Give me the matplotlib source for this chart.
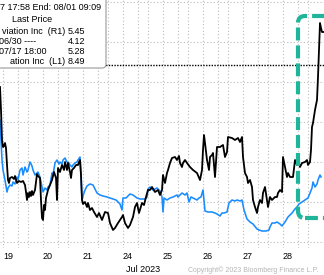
import matplotlib
matplotlib.use('Agg')
import matplotlib.pyplot as plt
from matplotlib.patches import FancyBboxPatch

# ---- datos (barras intradia, 40 barras por sesion) ----
day_labels = ['19', '20', '21', '24', '25', '26', '27', '28']
month_label = 'Jul 2023'
first_day_bar = 3
bars_per_day = 40

# serie negra (L1)
l1_bar = [0, 1, 2, 3, 4, 5, 6, 7, 8, 9,
          10, 12, 14, 15, 17, 19, 21, 23, 25, 26,
          27, 28, 29, 30, 31, 32, 33, 35, 36, 37,
          38, 40, 41, 42, 43, 44, 45, 46, 48, 50,
          52, 54, 56, 57, 58, 60, 62, 64, 65, 67,
          68, 70, 71, 72, 74, 76, 78, 79, 80, 81,
          82, 83, 85, 87, 88, 90, 92, 94, 97, 99,
          102, 105, 108, 110, 113, 115, 118, 122, 123, 125,
          128, 130, 133, 135, 137, 139, 142, 144, 146, 148,
          150, 152, 155, 158, 160, 162, 163, 165, 167, 168,
          170, 172, 175, 177, 179, 180, 182, 183, 185, 187,
          190, 193, 197, 200, 202, 203, 204, 205, 207, 209,
          210, 212, 213, 215, 217, 220, 223, 225, 227, 228,
          232, 235, 238, 240, 242, 243, 245, 247, 248, 250,
          252, 253, 255, 257, 258, 260, 262, 263, 265, 267,
          268, 270, 272, 275, 277, 278, 280, 282, 283, 285,
          287, 288, 290, 293, 295, 297, 298, 300, 302, 305,
          307, 308, 310, 311, 312, 313, 315, 317, 318, 319,
          320, 321, 322, 324]
l1_price = [7.875, 7.30, 6.55, 6.375, 6.40, 6.475, 6.35, 5.925, 5.55, 5.475,
            5.60, 5.625, 5.575, 5.65, 5.475, 5.525, 5.50, 5.525, 5.425, 5.25,
            5.05, 5.225, 5.125, 5.25, 5.15, 5.275, 5.175, 5.30, 5.50, 5.70,
            5.65, 5.60, 5.05, 4.60, 4.55, 4.925, 4.80, 5.10, 5.30, 5.425,
            5.55, 5.75, 5.60, 5.05, 5.85, 5.75, 5.925, 5.80, 6.00, 5.80,
            5.975, 5.75, 5.60, 5.80, 5.85, 5.925, 5.925, 6.00, 6.05, 5.675,
            5.05, 4.95, 5.00, 4.875, 4.975, 4.80, 4.85, 4.75, 4.625, 4.725,
            4.55, 4.75, 4.725, 4.475, 4.30, 4.35, 4.475, 4.625, 4.675, 4.475,
            4.35, 4.425, 4.625, 4.875, 4.975, 4.725, 4.975, 4.925, 5.125, 5.30,
            5.30, 5.375, 5.25, 5.30, 5.175, 5.30, 5.675, 5.475, 5.725, 5.80,
            5.975, 6.10, 6.125, 6.05, 6.15, 5.975, 5.875, 5.975, 6.05, 5.975,
            5.875, 5.80, 5.725, 5.55, 5.80, 6.30, 6.675, 6.475, 6.05, 5.80,
            6.125, 6.175, 6.225, 5.625, 6.375, 6.375, 6.425, 6.125, 6.25, 6.625,
            6.60, 6.55, 6.60, 6.50, 6.625, 6.125, 5.725, 5.625, 5.475, 5.55,
            5.375, 5.05, 4.875, 4.725, 4.875, 5.05, 4.975, 5.225, 5.375, 5.05,
            4.875, 5.125, 5.05, 5.125, 5.125, 5.225, 5.30, 5.25, 6.125, 5.875,
            5.625, 5.725, 5.625, 5.625, 6.05, 5.925, 6.05, 5.875, 5.975, 6.00,
            6.05, 5.925, 6.00, 6.30, 6.875, 6.975, 7.30, 7.55, 8.125, 8.80,
            9.475, 9.35, 9.25, 9.25]

# serie azul (R1)
r1_bar = [0, 1, 2, 3, 5, 7, 8, 10, 12, 13,
          15, 17, 18, 20, 22, 23, 25, 27, 28, 30,
          32, 33, 35, 37, 38, 40, 42, 43, 45, 47,
          48, 50, 52, 53, 55, 57, 59, 60, 62, 63,
          65, 67, 69, 70, 72, 73, 75, 77, 78, 80,
          81, 82, 83, 85, 87, 90, 93, 95, 97, 100,
          103, 107, 110, 113, 116, 118, 120, 122, 123, 126,
          130, 133, 137, 140, 145, 147, 148, 150, 153, 155,
          157, 160, 162, 163, 164, 167, 170, 173, 177, 178,
          182, 185, 187, 189, 191, 193, 197, 199, 201, 203,
          205, 208, 212, 215, 217, 220, 222, 224, 227, 229,
          232, 235, 237, 240, 242, 244, 247, 250, 253, 257,
          259, 262, 266, 269, 270, 272, 275, 277, 280, 282,
          285, 288, 292, 295, 297, 299, 302, 305, 308, 310,
          312, 313, 315, 317, 318, 320, 321]
r1_price = [7.05, 6.55, 6.05, 5.80, 5.55, 5.25, 5.35, 5.425, 5.40, 5.50,
            5.45, 5.625, 5.55, 5.80, 5.85, 5.675, 5.875, 5.75, 5.80, 6.00,
            5.90, 5.80, 5.675, 5.725, 5.75, 5.625, 5.375, 5.25, 5.35, 5.30,
            5.375, 5.425, 5.725, 5.675, 5.975, 6.05, 5.95, 6.00, 5.95, 6.05,
            6.10, 6.00, 5.975, 5.925, 5.875, 5.925, 5.975, 6.00, 6.05, 6.125,
            5.675, 5.05, 5.15, 5.30, 5.40, 5.45, 5.425, 5.325, 5.225, 5.175,
            5.15, 5.125, 5.10, 5.075, 5.05, 5.00, 4.95, 4.80, 5.10, 5.10,
            5.20, 5.175, 5.10, 5.075, 5.075, 5.125, 5.325, 5.375, 5.30, 5.325,
            5.35, 5.275, 5.125, 4.75, 5.10, 5.05, 5.10, 5.125, 5.175, 5.125,
            5.225, 5.175, 5.225, 5.00, 5.125, 5.10, 5.05, 5.10, 5.125, 5.30,
            4.775, 4.75, 4.75, 4.725, 4.70, 4.65, 4.725, 4.725, 4.75, 4.975,
            5.05, 5.025, 5.05, 5.025, 5.05, 4.80, 4.575, 4.50, 4.45, 4.325,
            4.30, 4.275, 4.275, 4.30, 4.375, 4.475, 4.475, 4.50, 4.45, 4.40,
            4.50, 4.625, 4.725, 4.825, 4.875, 4.95, 5.00, 5.05, 5.10, 5.225,
            5.35, 5.50, 5.375, 5.45, 5.55, 5.675, 5.625]

ref_price = 8.425          # linea punteada horizontal
highlight_bar = 298        # recuadro verde al final
highlight_top = 9.65
highlight_bottom = 4.6

legend_header = '7 17:58 End: 08/01 09:09'
legend_title = 'Last Price'
legend_rows = [('viation Inc  (R1)', '5.45'),
               ('06/30 ----', '4.12'),
               ('07/17 18:00', '5.28'),
               ('ation Inc  (L1)', '8.49')]
copyright_text = 'Copyright\u00a9 2023 Bloomberg Finance L.P.'

# ---- grafico ----
plt.rcParams['font.family'] = ['Liberation Sans', 'DejaVu Sans']

W, H = 324, 275
fig = plt.figure(figsize=(W / 100, H / 100), dpi=100)
ax = fig.add_axes([0, 1 - 248 / H, 1, 248 / H])

day_starts = [first_day_bar + bars_per_day * i for i in range(len(day_labels))]
ax.set_xticks(day_starts)
ax.set_xticklabels(day_labels, ha='left', fontsize=6.5)
minor = [s + off for s in range(first_day_bar - bars_per_day, 330, bars_per_day)
         for off in (15, 25)]
ax.set_xticks(minor, minor=True)
ax.set_yticks([4, 5, 6, 7, 8, 9, 10])
ax.tick_params(axis='x', which='both', length=0, pad=3)
ax.tick_params(axis='y', left=False, labelleft=False)
ax.grid(True, which='both', color='#bdbdbd', linestyle=(0, (1, 2)), linewidth=0.8)
for s in ax.spines.values():
    s.set_visible(False)

ax.axhline(ref_price, color='black', lw=1.0, linestyle=(0, (1, 1)), zorder=2)
ax.plot(r1_bar, r1_price, color='#1a8cff', lw=1.15, zorder=3)
ax.plot(l1_bar, l1_price, color='black', lw=1.3, zorder=4)

box = FancyBboxPatch((highlight_bar, highlight_bottom), 60,
                     highlight_top - highlight_bottom,
                     boxstyle='round,pad=0,rounding_size=7', mutation_aspect=1 / 40,
                     fill=False, edgecolor='#1fb59a', lw=3,
                     linestyle=(0, (3.1, 1.2)), zorder=5)
ax.add_patch(box)

# limites al final (los ticks menores no deben ampliarlos)
ax.set_xlim(0, 324)
ax.set_ylim(3.85, 10.05)

# cuadro de leyenda (recortado a la izquierda)
leg = FancyBboxPatch((-10 / W, 1 - 68 / H), 116 / W, 80 / H,
                     boxstyle='round,pad=0,rounding_size=0.012',
                     mutation_aspect=W / H, transform=fig.transFigure,
                     facecolor='white', edgecolor='#9a9a9a', lw=0.8, zorder=5)
fig.add_artist(leg)

fs = 6.5
fig.text(101 / W, 1 - 8 / H, legend_header, ha='right', va='center', fontsize=fs, zorder=6)
fig.text(32 / W, 1 - 20 / H, legend_title, ha='center', va='center', fontsize=fs, zorder=6)
ys = [31, 41.5, 52, 62]
for (lab, val), y in zip(legend_rows, ys):
    if '(' in lab:
        fig.text(65 / W, 1 - y / H, lab, ha='right', va='center', fontsize=fs, zorder=6)
    else:
        fig.text(-1 / W, 1 - y / H, lab, ha='left', va='center', fontsize=fs, zorder=6)
    fig.text(85 / W, 1 - y / H, val, ha='right', va='center', fontsize=fs, zorder=6)

fig.text(143 / W, 1 - 269 / H, month_label, ha='center', va='center', fontsize=6.5)
fig.text(318 / W, 0.5 / H, copyright_text, ha='right', va='bottom',
         fontsize=5, color='#b4b4b4')

fig.savefig('out.png', dpi=100)
